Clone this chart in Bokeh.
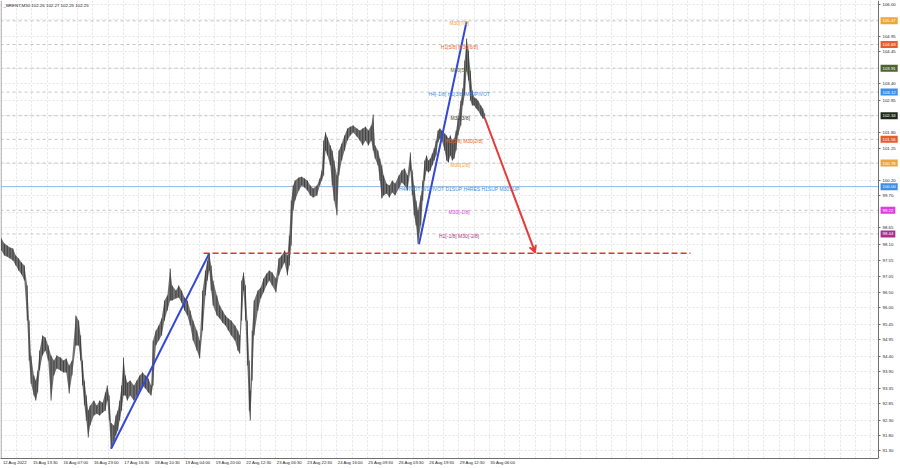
from bokeh.plotting import figure
from bokeh.models import (Range1d, FixedTicker, Label, Arrow, VeeHead, BoxAnnotation,
                          ColumnDataSource, PrintfTickFormatter)
from bokeh.core.properties import value
from bokeh.embed import file_html
from bokeh.resources import INLINE

# ---------------- data ----------------
header = "_BRENT,M30  102.26 102.27 102.25 102.25"

# bar index (M30 bars since 12 Aug 2022) of each sampled stretch, with its high and low
bars = [0, 3, 6, 9, 12, 15, 18, 21, 24, 27, 29, 31, 34, 36, 38, 40, 43, 46, 49, 52,
        55, 58, 62, 65, 68, 71, 74, 78, 81, 83, 85, 87, 89, 91, 93, 97, 100, 103, 106, 109,
        111, 113, 115, 118, 120, 122, 124, 126, 128, 130, 132, 135, 139, 142, 145, 148, 151, 154, 157, 159,
        162, 165, 168, 171, 174, 177, 179, 183, 186, 189, 192, 195, 198, 201, 205, 208, 211, 214, 216, 218,
        220, 222, 226, 229, 232, 235, 238, 241, 245, 248, 250, 252, 254, 256, 258, 260, 261, 263, 265, 269,
        272, 275, 278, 281, 284, 288, 291, 294, 297, 300, 302, 304, 306, 308, 312, 315, 318, 321, 324, 327,
        331, 334, 336, 338, 340, 342, 345, 347, 349, 352, 354, 357, 360, 363, 366, 369, 373, 376, 379, 382,
        385, 388, 390, 392, 395, 397, 399, 401, 404, 407, 410, 413, 417, 420, 423, 426, 429, 431, 433, 435,
        437, 440, 442, 444, 446, 448, 450, 452, 454, 456, 458, 460, 462, 465, 467, 469, 471, 473, 475, 477,
        479, 482, 484, 486, 488, 490, 492, 494, 496, 498, 500, 503, 505, 507]
highs = [98.29, 98.12, 98.06, 97.99, 97.96, 97.73, 97.63, 97.50, 97.40, 96.74, 95.58, 94.43, 93.77, 93.60, 93.93, 94.59, 95.09, 95.02, 94.76, 94.43,
         94.26, 94.43, 94.36, 94.26, 94.33, 94.10, 94.26, 95.75, 95.58, 95.09, 94.26, 93.60, 93.11, 92.61, 92.78, 92.94, 92.78, 92.94, 92.87, 93.21,
         93.44, 93.11, 92.20, 92.12, 92.45, 92.61, 92.94, 93.44, 94.36, 93.77, 93.53, 93.60, 93.44, 93.60, 93.77, 93.87, 93.77, 93.67, 93.44, 94.92,
         95.25, 95.42, 95.65, 96.24, 96.41, 97.30, 96.74, 96.57, 96.74, 96.57, 96.34, 96.24, 95.91, 95.58, 95.25, 94.92, 96.57, 97.23, 97.56, 97.80,
         97.40, 96.90, 96.41, 96.08, 95.91, 95.75, 95.65, 95.58, 95.42, 95.25, 95.09, 96.90, 97.17, 96.74, 95.58, 94.26, 93.27, 95.25, 96.24, 96.57,
         96.67, 96.97, 97.13, 97.23, 97.17, 96.97, 97.63, 97.73, 97.89, 97.73, 98.39, 99.54, 100.04, 100.20, 100.30, 100.33, 100.27, 100.20, 100.04, 99.94,
         100.04, 100.27, 100.53, 101.52, 101.79, 101.62, 101.36, 101.19, 100.86, 100.37, 101.19, 101.42, 101.69, 101.92, 101.98, 102.02, 101.92, 101.85, 101.92, 101.98,
         101.85, 102.02, 102.38, 101.36, 101.19, 100.93, 100.70, 100.37, 100.10, 100.04, 100.20, 100.10, 100.37, 100.53, 100.60, 100.37, 101.13, 100.53, 100.04, 99.54,
         99.21, 99.71, 100.20, 100.86, 101.03, 100.86, 100.93, 101.09, 101.26, 101.52, 101.85, 101.92, 101.85, 101.75, 101.69, 101.59, 101.69, 101.52, 101.59, 101.85,
         102.25, 102.84, 103.24, 104.16, 104.89, 104.49, 103.83, 103.17, 102.94, 102.91, 102.84, 102.68, 102.58, 102.41]
lows = [97.89, 97.73, 97.69, 97.63, 97.56, 97.40, 97.23, 97.10, 96.90, 95.58, 94.26, 93.50, 93.11, 92.94, 93.21, 93.93, 94.43, 94.59, 94.26, 92.94,
        93.77, 94.00, 93.93, 93.87, 93.87, 93.17, 93.77, 94.76, 94.76, 94.26, 93.44, 92.78, 92.28, 91.72, 92.12, 92.45, 92.51, 92.45, 92.54, 92.61,
        92.94, 92.28, 91.35, 91.60, 91.79, 91.95, 92.28, 92.61, 93.11, 93.11, 92.94, 93.11, 92.94, 93.11, 93.27, 93.44, 93.34, 93.21, 93.11, 93.44,
        94.76, 94.92, 95.09, 95.58, 95.91, 96.24, 96.24, 96.31, 96.34, 96.17, 95.91, 95.75, 95.42, 94.92, 94.59, 94.33, 95.25, 96.41, 96.90, 97.23,
        96.57, 96.08, 95.75, 95.65, 95.51, 95.42, 95.25, 95.09, 94.92, 94.59, 94.49, 95.58, 96.57, 95.58, 94.10, 92.61, 92.28, 93.60, 95.09, 95.91,
        96.31, 96.51, 96.74, 96.90, 96.74, 96.51, 97.07, 97.30, 97.50, 97.07, 97.40, 98.06, 99.21, 99.54, 99.87, 100.04, 99.97, 99.87, 99.71, 99.64,
        99.71, 100.04, 100.20, 100.37, 101.19, 101.03, 100.70, 100.04, 99.54, 99.05, 100.37, 100.86, 101.19, 101.52, 101.69, 101.79, 101.65, 101.52, 101.36, 101.52,
        101.36, 101.52, 101.19, 100.93, 100.70, 100.20, 99.61, 99.71, 99.77, 99.64, 99.81, 99.71, 99.94, 100.14, 100.04, 99.87, 100.53, 99.71, 99.05, 98.72,
        98.12, 98.72, 99.54, 100.20, 100.53, 100.47, 100.53, 100.70, 100.86, 101.03, 101.46, 101.59, 101.52, 101.19, 100.86, 100.80, 101.03, 100.86, 100.93, 101.19,
        101.69, 102.02, 102.68, 103.01, 103.83, 103.50, 102.84, 102.68, 102.68, 102.58, 102.51, 102.35, 102.25, 102.25]

# time-axis labels, one every 32 bars
time_labels = ["12 Aug 2022", "15 Aug 13:30", "16 Aug 07:00", "16 Aug 23:00", "17 Aug 16:30",
               "18 Aug 10:30", "19 Aug 04:00", "19 Aug 20:00", "22 Aug 12:30", "23 Aug 06:30",
               "23 Aug 22:30", "24 Aug 16:00", "25 Aug 09:30", "26 Aug 03:30", "26 Aug 19:30",
               "29 Aug 12:30", "30 Aug 06:00"]
label_bars = [0, 32, 64, 96, 128, 160, 192, 224, 256, 288, 320, 352, 384, 416, 448, 480, 512]

# price scale labels
price_ticks = [106.00, 104.95, 104.45, 103.40, 102.85, 101.80, 101.25, 100.20, 99.70, 98.65,
               98.10, 97.55, 97.05, 96.50, 96.00, 95.45, 94.95, 94.40, 93.90, 93.35,
               92.85, 92.30, 91.80, 91.30]
hidden_ticks = [105.50, 103.90, 102.35, 100.75, 99.15]

# Murrey-math levels, their texts and colours
levels = [105.47, 104.69, 103.91, 103.12, 102.34, 101.56, 100.78, 100.00, 99.22, 98.44]
level_texts = ["M30[7/8]", "H1[5/8] M30[6/8]", "M30[5/8]", "H4[-1/8] H1[3/8] M30PIVOT",
               "M30[3/8]", "H1[2/8] M30[2/8]", "M30[1/8]",
               "H4PIVOT W1PIVOT D1SUP H4RES H1SUP M30SUP", "M30[-1/8]", "H1[-1/8] M30[-2/8]"]
level_text_bars = [470, 461, 471, 448, 471, 466, 471, 417, 469, 459]
level_colors = ["#eea23a", "#e8622a", "#5b6f2c", "#3d8fe6", "#2f3d24", "#e8622a",
                "#eea23a", "#3d8fe6", "#dc3ee0", "#a8308a"]
box_colors = ["#f0a53c", "#e65c2a", "#4f6330", "#3d8fe6", "#1d2a1a", "#e65c2a",
              "#f0a53c", "#3d8fe6", "#dc3ee0", "#a8308a"]

# trend lines drawn on the chart
blue1_bars, blue1_prices = [115, 218], [91.35, 97.80]
blue2_bars, blue2_prices = [438, 488], [98.10, 105.45]
arrow_bars, arrow_prices = [507, 560], [102.27, 97.82]
target_bars, target_price = [212, 723], 97.80

# ---------------- figure ----------------
X0, X1 = -1.05, 943.3      # visible bar range
AX = 920.3                 # bar position of the price scale line
Y0, Y1 = 91.03, 106.142
FONT = "Liberation Sans"

p = figure(width=900, height=468, output_backend="svg", toolbar_location=None,
           x_range=Range1d(X0, X1), y_range=Range1d(Y0, Y1), y_axis_location="right",
           min_border_left=0, min_border_top=0, min_border_right=0, min_border_bottom=10)
p.outline_line_color = None
p.background_fill_color = "white"

# grid
p.xgrid.ticker = FixedTicker(ticks=list(range(0, 921, 16)))
p.ygrid.ticker = FixedTicker(ticks=price_ticks + hidden_ticks)
for g in (p.xgrid, p.ygrid):
    g.grid_line_color = "#e4e4e4"
    g.grid_line_dash = "2 2"
    g.grid_line_width = 1

# white price-scale strip
p.add_layout(BoxAnnotation(left=AX, fill_color="white", fill_alpha=1.0,
                           line_alpha=0, level="underlay"))

# axes
p.yaxis.fixed_location = AX
p.yaxis.ticker = FixedTicker(ticks=price_ticks)
p.yaxis.formatter = PrintfTickFormatter(format="%.2f")
p.yaxis.major_label_text_font_size = "4.3px"
p.yaxis.major_label_text_font = FONT
p.yaxis.major_label_text_color = "#222222"
p.yaxis.major_label_standoff = 2
p.yaxis.major_tick_out = 2
p.yaxis.major_tick_in = 0
p.yaxis.minor_tick_out = 0
p.yaxis.minor_tick_in = 0
p.yaxis.axis_line_color = "#707070"
p.yaxis.major_tick_line_color = "#707070"

tick_pos = [b + 14 for b in label_bars]
p.xaxis.ticker = FixedTicker(ticks=tick_pos)
p.xaxis.bounds = (X0, AX)
p.xaxis.major_label_overrides = {t: lab for t, lab in zip(tick_pos, time_labels)}
p.xaxis.major_label_text_font_size = "4.2px"
p.xaxis.major_label_text_font = FONT
p.xaxis.major_label_text_color = "#222222"
p.xaxis.major_label_standoff = 1
p.xaxis.major_tick_out = 0
p.xaxis.major_tick_in = 0
p.xaxis.minor_tick_out = 0
p.xaxis.minor_tick_in = 0
p.xaxis.axis_line_color = "#707070"

# left border of the chart
p.line([X0 + 0.6, X0 + 0.6], [Y0, Y1], line_color="#9a9a9a", line_width=1)

# level lines
grey_levels = [l for l in levels if l != 100.00]
p.segment(x0=X0, x1=AX, y0=grey_levels, y1=grey_levels,
          line_color="#c4c4c4", line_dash="3 3", line_width=1)
p.segment(x0=X0, x1=AX, y0=[100.00], y1=[100.00], line_color="#8ab8e6", line_width=1)

# price bars
p.varea(x=bars, y1=lows, y2=highs, fill_color="#6a6a6a", fill_alpha=0.95)
p.segment(x0=bars, x1=bars, y0=lows, y1=highs, line_color="#2a2a2a", line_width=0.7)

# trend lines
p.line(blue1_bars, blue1_prices, line_color="#3349d6", line_width=2)
p.line(blue2_bars, blue2_prices, line_color="#3349d6", line_width=2)
p.line(target_bars, [target_price, target_price], line_color="#e03434",
       line_width=1.6, line_dash="6 3")
p.add_layout(Arrow(x_start=arrow_bars[0], y_start=arrow_prices[0],
                   x_end=arrow_bars[1], y_end=arrow_prices[1],
                   line_color="#e53b3b", line_width=2,
                   end=VeeHead(size=7, line_color="#e53b3b", fill_color="#e53b3b",
                               line_width=1.5)))

# level texts
src = ColumnDataSource(dict(x=level_text_bars, y=levels, t=level_texts, c=level_colors))
p.text(x="x", y="y", text="t", text_color="c", source=src,
       text_font=value(FONT), text_font_size=value("5px"),
       text_baseline="middle", text_align="left", y_offset=2)

# price boxes on the scale
for lv, col in zip(levels, box_colors):
    p.add_layout(Label(x=AX, y=lv, text=f"{lv:.2f}", x_offset=2,
                       text_align="left", text_baseline="middle",
                       text_font=FONT, text_font_size="4.3px", text_color="white",
                       background_fill_color=col, padding=2))

# header
p.add_layout(Label(x=X0, y=Y1, text=header, x_offset=3, y_offset=-2,
                   text_align="left", text_baseline="top",
                   text_font=FONT, text_font_size="4.4px", text_color="#222222"))

open("out.html", "w").write(file_html(p, INLINE))
